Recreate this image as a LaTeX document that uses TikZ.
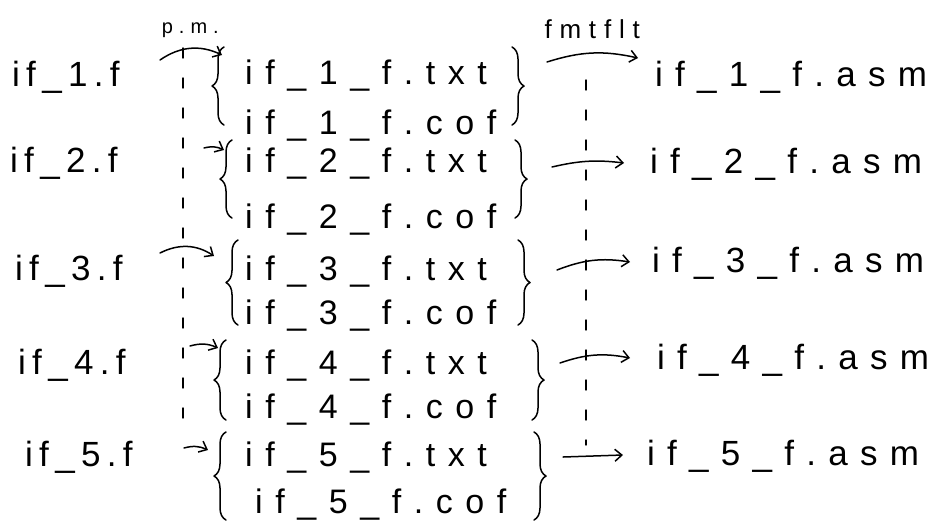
\documentclass[tikz,border=0pt]{standalone}
\usepackage{fontspec}
\setmainfont{Liberation Sans}
\newfontfamily\handA[LetterSpace=18]{Liberation Sans}
\newfontfamily\handB[LetterSpace=37]{Liberation Sans}
\newfontfamily\handC[LetterSpace=35]{Liberation Sans}
\newfontfamily\handL[LetterSpace=30]{Liberation Sans}
\usetikzlibrary{arrows.meta,decorations.pathreplacing}
\begin{document}
\begin{tikzpicture}[x=1pt,y=-1pt,
  srcnode/.style={anchor=base west,inner sep=0pt,font=\handA\fontsize{35}{38}\selectfont},
  midnode/.style={anchor=base west,inner sep=0pt,font=\handB\fontsize{34}{38}\selectfont},
  asmnode/.style={anchor=base west,inner sep=0pt,font=\handC\fontsize{35}{38}\selectfont},
  lab/.style={inner sep=0pt,font=\handL\fontsize{20}{22}\selectfont},
  hand/.style={line width=1.5pt,line cap=round,line join=round},
  arr/.style={hand,-{Straight Barb[length=7pt,width=12pt,line width=1.5pt]}},
  brc/.style={hand,decorate,decoration={brace,amplitude=12pt}},
  dsh/.style={line width=1.4pt,line cap=round,dash pattern=on 10pt off 20pt}]
\useasboundingbox (0,0) rectangle (937,523);
% row 1
\node[srcnode] (L1) at (12,86) {if\_1.f};
\node[midnode] (T1) at (245,84) {if\_1\_f.txt};
\node[midnode] (C1) at (245,134) {if\_1\_f.cof};
\node[asmnode] (A1) at (655,86) {if\_1\_f.asm};
% row 2
\node[srcnode] (L2) at (10,172) {if\_2.f};
\node[midnode] (T2) at (245,172) {if\_2\_f.txt};
\node[midnode] (C2) at (245,228) {if\_2\_f.cof};
\node[asmnode] (A2) at (650,173) {if\_2\_f.asm};
% row 3
\node[srcnode] (L3) at (15,280) {if\_3.f};
\node[midnode] (T3) at (245,280) {if\_3\_f.txt};
\node[midnode] (C3) at (245,324) {if\_3\_f.cof};
\node[asmnode] (A3) at (652,272) {if\_3\_f.asm};
% row 4
\node[srcnode] (L4) at (18,374) {if\_4.f};
\node[midnode] (T4) at (245,374) {if\_4\_f.txt};
\node[midnode] (C4) at (245,418) {if\_4\_f.cof};
\node[asmnode] (A4) at (657,369) {if\_4\_f.asm};
% row 5
\node[srcnode] (L5) at (25,466) {if\_5.f};
\node[midnode] (T5) at (245,466) {if\_5\_f.txt};
\node[midnode] (C5) at (255,513) {if\_5\_f.cof};
\node[asmnode] (A5) at (647,465) {if\_5\_f.asm};
% braces
\coordinate (lb1a) at (224,125); \coordinate (lb1b) at (224,47);
\coordinate (lb2a) at (232,218); \coordinate (lb2b) at (232,140);
\coordinate (lb3a) at (238,325); \coordinate (lb3b) at (238,240);
\coordinate (lb4a) at (226,420); \coordinate (lb4b) at (226,340);
\coordinate (lb5a) at (226,520); \coordinate (lb5b) at (226,432);
\coordinate (rb1a) at (512,47);  \coordinate (rb1b) at (512,125);
\coordinate (rb2a) at (515,140); \coordinate (rb2b) at (515,218);
\coordinate (rb3a) at (518,240); \coordinate (rb3b) at (518,325);
\coordinate (rb4a) at (532,340); \coordinate (rb4b) at (532,420);
\coordinate (rb5a) at (534,432); \coordinate (rb5b) at (534,520);
\foreach \i in {1,...,5}{
  \draw[brc] (lb\i a) -- (lb\i b);
  \draw[brc] (rb\i a) -- (rb\i b);
}
% dashed guides
\coordinate (dl1) at (183,48);  \coordinate (dl2) at (183,418);
\coordinate (dr1) at (586,80);  \coordinate (dr2) at (586,445);
\draw[dsh] (dl1) -- (dl2);
\draw[dsh] (dr1) -- (dr2);
% left arrows
\coordinate (p1s) at (160,60);  \coordinate (p1e) at (222,55);
\coordinate (p2s) at (204,148); \coordinate (p2e) at (224,150);
\coordinate (p3s) at (160,253); \coordinate (p3e) at (214,256);
\coordinate (p4s) at (190,346); \coordinate (p4e) at (218,348);
\coordinate (p5s) at (184,448); \coordinate (p5e) at (208,450);
\draw[arr] (p1s) to[bend left=30] node[lab,above=10pt,midway] (pm) {p.m.} (p1e);
\draw[arr] (p2s) to[bend left=20] (p2e);
\draw[arr] (p3s) to[bend left=30] (p3e);
\draw[arr] (p4s) to[bend left=20] (p4e);
\draw[arr] (p5s) to[bend left=20] (p5e);
% right arrows
\coordinate (f1s) at (547,62);  \coordinate (f1e) at (638,58);
\coordinate (f2s) at (552,167); \coordinate (f2e) at (624,163);
\coordinate (f3s) at (557,270); \coordinate (f3e) at (630,262);
\coordinate (f4s) at (560,363); \coordinate (f4e) at (630,358);
\coordinate (f5s) at (563,457); \coordinate (f5e) at (623,455);
\draw[arr] (f1s) to[bend left=15] node[lab,above=14pt,midway,font=\handL\fontsize{26}{28}\selectfont] (fm) {fmtflt} (f1e);
\draw[arr] (f2s) to[bend left=10] (f2e);
\draw[arr] (f3s) to[bend left=15] (f3e);
\draw[arr] (f4s) to[bend left=15] (f4e);
\draw[arr] (f5s) -- (f5e);
\end{tikzpicture}
\end{document}
